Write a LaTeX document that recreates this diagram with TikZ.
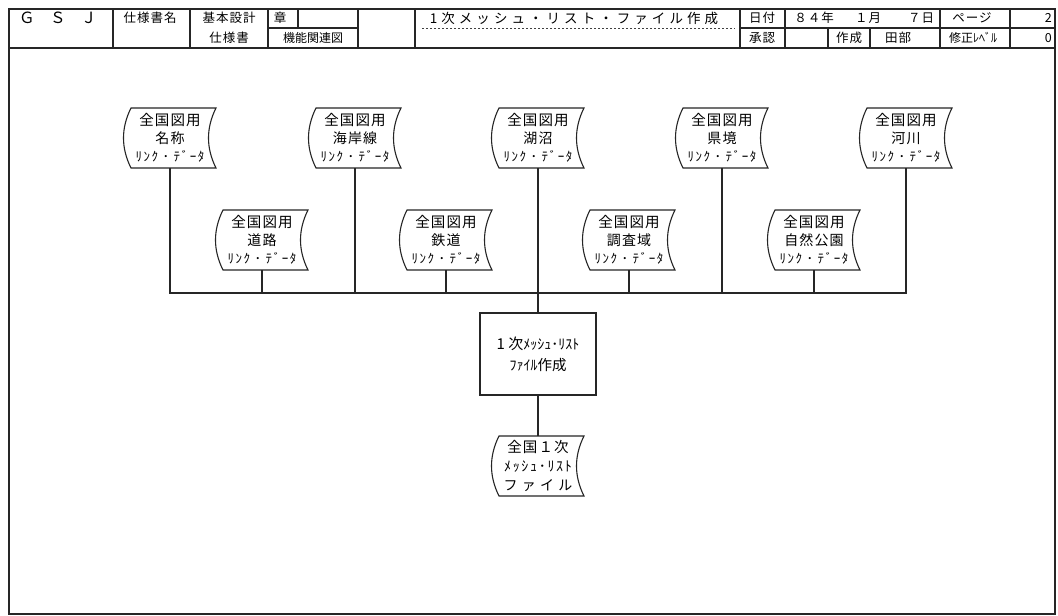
\documentclass[tikz,border=0pt]{standalone}
\usepackage{fontspec}
\setmainfont{Noto Sans CJK JP}
\newfontfamily\lsA[LetterSpace=8]{Noto Sans CJK JP}
\newfontfamily\lsB[LetterSpace=30]{Noto Sans CJK JP}
\newfontfamily\lsC[LetterSpace=12]{Noto Sans CJK JP}
\newcommand\fsz[1]{\fontsize{#1}{#1}\selectfont}
\tikzset{
  ln/.style={line width=1.1pt, black!85},
  frameln/.style={line width=1.4pt, black!85},
  dotln/.style={line width=0.9pt, black!75, dash pattern=on 2pt off 2pt},
  dtext/.style={inner sep=0pt, minimum width=92pt, minimum height=60pt, align=center,
                font=\fontsize{13}{18}\selectfont},
  pbox/.style={draw, line width=1.1pt, black!85, text=black, minimum width=116pt, minimum height=82pt,
               align=center, inner sep=0pt, font=\fontsize{13}{21}\selectfont},
  hd/.style={inner sep=0pt, font=\lsA\fsz{12.5}},
}
% stored-data symbol around a centre (cx,cy)
\newcommand\dshape[2]{%
  \draw[ln] (#1-39,#2-30) -- (#1+46,#2-30)
    .. controls (#1+36,#2-10) and (#1+36,#2+10) .. (#1+46,#2+30)
    -- (#1-39,#2+30)
    .. controls (#1-49,#2+10) and (#1-49,#2-10) .. (#1-39,#2-30) -- cycle;}
\newcommand\dlines[1]{{\lsA\fsz{14.5}全国図用}\\{\lsA\fsz{14}#1}\\{\lsC\fsz{13}ﾘﾝｸ ･ ﾃﾞｰﾀ}}
\newcommand\dnode[4]{% name, cx, cy, second line
  \dshape{#2}{#3}%
  \node[dtext] (#1) at (#2,#3) {\dlines{#4}};}
\begin{document}
\begin{tikzpicture}[x=1pt,y=-1pt]
\useasboundingbox (0,0) rectangle (1058,616);
\fill[white] (0,0) rectangle (1058,616);

% ---------- frame and header grid ----------
\draw[frameln] (9,9) rectangle (1055,614);
\draw[ln] (9,48) -- (1055,48);
\foreach \xx in {113,190,268,358,415,740,785,940,1010}
  \draw[ln] (\xx,9) -- (\xx,48);
\draw[ln] (298,9) -- (298,28);
\draw[ln] (828,28) -- (828,48);
\draw[ln] (870,28) -- (870,48);
\draw[ln] (268,28) -- (358,28);
\draw[dotln] (422,28) -- (735,28);
\draw[ln] (740,28) -- (1055,28);

% ---------- header texts ----------
\node[hd, font=\fsz{15.5}] (hgsj) at (58,18) {Ｇ　Ｓ　Ｊ};
\node[hd] (hname) at (150,18) {仕様書名};
\node[hd] (hkihon) at (229,18) {基本設計};
\node[hd] (hshiyo) at (229,38) {仕様書};
\node[hd] (hsho) at (280,18) {章};
\node[hd, font=\fsz{12}] (hkino) at (313,38) {機能関連図};
\node[hd, font=\lsB\fsz{13.5}] (htitle) at (574,18) {1次メッシュ・リスト・ファイル作成};
\node[hd] (hdate) at (762,18) {日付};
\node[hd] (hshonin) at (762,38) {承認};
\node[hd] (hy) at (814,18) {８４年};
\node[hd] (hm) at (868,18) {１月};
\node[hd] (hd) at (921,18) {７日};
\node[hd] (hsakusei) at (849,38) {作成};
\node[hd] (htabe) at (898,38) {田部};
\node[hd] (hpage) at (972,18) {ページ};
\node[hd, font=\fsz{12}] (hrev) at (973,38) {修正ﾚﾍﾞﾙ};
\node[hd, anchor=east] (hpn) at (1052,18) {2};
\node[hd, anchor=east] (hrn) at (1052,38) {0};

% ---------- data symbols ----------
\dnode{n1}{170}{138}{名称}
\dnode{n2}{355}{138}{海岸線}
\dnode{n3}{538}{138}{湖沼}
\dnode{n4}{722}{138}{県境}
\dnode{n5}{906}{138}{河川}
\dnode{m1}{262}{240}{道路}
\dnode{m2}{446}{240}{鉄道}
\dnode{m3}{629}{240}{調査域}
\dnode{m4}{814}{240}{自然公園}

% ---------- process and output ----------
\node[pbox] (p) at (538,354)
  {{\fsz{15}1 次}{\fsz{14}ﾒｯｼｭ･ﾘｽﾄ}\\{\fsz{14}ﾌｧｲﾙ}{\fsz{14.5}作成}};
\dshape{538}{466}
\node[dtext, font=\fontsize{13}{19}\selectfont] (o) at (538,466)
  {{\lsA\fsz{14.5}全国１次}\\{\lsC\fsz{14}ﾒｯｼｭ･ﾘｽﾄ}\\{\lsB\fsz{14}ファイル}};

% ---------- connectors ----------
\coordinate (bus) at (538,293);
\draw[ln] (n1.south) -- (n1.south |- bus) -- (n5.south |- bus) -- (n5.south);
\foreach \nn in {n2,n4,m1,m2,m3,m4}
  \draw[ln] (\nn.south) -- (\nn.south |- bus);
\draw[ln] (n3.south) -- (p.north);
\draw[ln] (p.south) -- (o.north);
\end{tikzpicture}
\end{document}
